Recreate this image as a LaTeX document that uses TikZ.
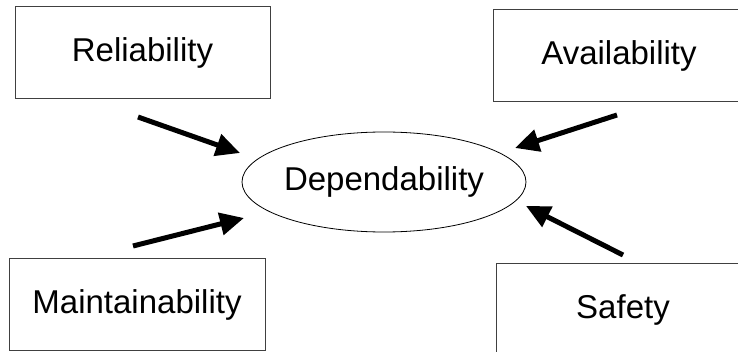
\documentclass[tikz,border=0pt]{standalone}
\usepackage{fontspec}
\setmainfont{Liberation Sans}
\usetikzlibrary{arrows.meta,shapes.geometric}
\begin{document}
\begin{tikzpicture}[x=1pt,y=-1pt,
  attrbox/.style={draw=black!75,line width=1pt,rectangle,inner sep=0pt,
    minimum width=255pt,minimum height=92pt,
    font=\fontsize{33}{38}\selectfont},
  centre/.style={draw=black,line width=0.8pt,ellipse,inner sep=0pt,
    minimum width=284pt,minimum height=100pt,
    font=\fontsize{33}{38}\selectfont},
  feed/.style={line width=5pt,-{Triangle[length=24pt,width=22pt]}}
]
\clip (0,0) rectangle (738,352);
\fill[white] (0,0) rectangle (738,352);

% attribute boxes
\node[attrbox] (rel) at (142.5,53) {Reliability};
\node[attrbox,minimum width=252pt] (ava) at (619,55.5) {Availability};
\node[attrbox,minimum width=256pt,minimum height=91pt] (mai) at (137,304.5) {Maintainability};
\node[attrbox,minimum width=254pt] (saf) at (623,310) {Safety};

% central concept
\node[centre] (dep) at (384,182) {Dependability};

% arrow end points
\coordinate (r1) at (138,117);  \coordinate (r2) at (240,153);
\coordinate (a1) at (617,115);  \coordinate (a2) at (515,148);
\coordinate (m1) at (133,246);  \coordinate (m2) at (244,218);
\coordinate (s1) at (623,255);  \coordinate (s2) at (526,206);

\draw[feed] (r1) -- (r2);
\draw[feed] (a1) -- (a2);
\draw[feed] (m1) -- (m2);
\draw[feed] (s1) -- (s2);
\end{tikzpicture}
\end{document}
